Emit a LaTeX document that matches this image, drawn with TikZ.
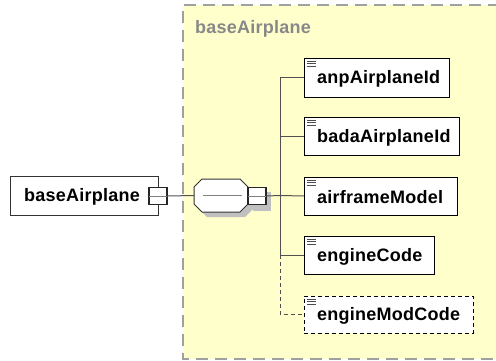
\documentclass[tikz,border=0pt]{standalone}
\usepackage{fontspec}
\setmainfont{Liberation Sans}
\definecolor{groupfill}{HTML}{FFFFCC}
\definecolor{groupline}{HTML}{A0A0A0}
\definecolor{titlegray}{HTML}{888888}
\definecolor{shadowgray}{HTML}{C0C0C0}
\definecolor{wiregray}{HTML}{505050}
\newcommand{\elemfont}{\bfseries\fontsize{18}{20}\selectfont\addfontfeature{LetterSpace=1.5}}
\begin{document}
\begin{tikzpicture}[x=1pt,y=-1pt,
  every node/.style={inner sep=0pt, outer sep=0pt},
  elembox/.style={draw=black, line width=1pt, fill=white, anchor=north west},
  optbox/.style={elembox, dashed, dash pattern=on 4pt off 3pt},
  elemtext/.style={font=\elemfont, anchor=west},
  wire/.style={draw=wiregray, line width=1pt},
  toggle/.style={draw=black!85, line width=1.6pt, fill=white, minimum width=18pt, minimum height=17pt},
  docicon/.style={draw=black!70, line width=0.8pt}
]
\useasboundingbox (0,0) rectangle (496,360);

% dashed group of the complex type
\path[fill=groupfill] (183,5) rectangle (500,359);
\draw[groupline, line width=1.5pt, dash pattern=on 12pt off 7pt] (500,5) -- (183,5) -- (183,359) -- (500,359);
\node[font=\elemfont, text=titlegray, anchor=west] (title) at (195,29) {baseAirplane};

% root element
\node[draw=black!80, line width=1pt, fill=white, anchor=north west, minimum width=148pt, minimum height=39pt] (root) at (10,176) {};
\node[elemtext] (roottext) at (24,196.5) {baseAirplane};
\node[toggle] (rootsq) at (158,196) {};
\draw[gray, line width=1pt] (rootsq.west) -- (rootsq.east);

% sequence compositor with its shadow
\path[fill=shadowgray] (207,184) -- (245,184) -- (253,192) -- (253,209) -- (245,217) -- (207,217) -- (199,209) -- (199,192) -- cycle;
\path[draw=black!80, line width=1pt, fill=white] (202,179) -- (240,179) -- (248,187) -- (248,204) -- (240,212) -- (202,212) -- (194,204) -- (194,187) -- cycle;
\node[minimum width=54pt, minimum height=33pt] (seq) at (221,195.5) {};
\draw[gray, line width=1pt] (203,195.5) -- (242,195.5);
\fill[shadowgray] (253,192) rectangle (271,211);
\node[toggle] (seqsq) at (257,196) {};
\draw[gray, line width=1pt] (seqsq.west) -- (seqsq.east);

% child elements
\node[elembox, minimum width=145pt, minimum height=39pt] (anp) at (304,58) {};
\node[elemtext] (anptext) at (317,79) {anpAirplaneId};
\node[elembox, minimum width=155pt, minimum height=38pt] (bada) at (304,117) {};
\node[elemtext] (badatext) at (317,138) {badaAirplaneId};
\node[elembox, minimum width=153pt, minimum height=38pt] (frame) at (304,177) {};
\node[elemtext] (frametext) at (317,197) {airframeModel};
\node[elembox, minimum width=130pt, minimum height=38pt] (eng) at (304,236) {};
\node[elemtext] (engtext) at (317,257) {engineCode};
\node[optbox, minimum width=169pt, minimum height=37pt] (mod) at (304,296) {};
\node[elemtext] (modtext) at (317,316) {engineModCode};

% documentation marks in the child boxes
\foreach \b in {anp,bada,frame,eng,mod}{
  \foreach \d in {3,5.5,8}{
    \draw[docicon] ([xshift=3pt,yshift=-\d pt]\b.north west) -- ++(9,0);
  }
}

% connectors
\coordinate (trunk) at (280,195.5);
\draw[wire] (rootsq.east) -- (seq.west);
\draw[wire] (seqsq.east) -- (trunk);
\draw[wire] (trunk) |- (anp.west);
\draw[wire] (trunk) |- (bada.west);
\draw[wire] (trunk) -- (frame.west);
\draw[wire] (trunk) |- (eng.west);
\draw[wire, dash pattern=on 4pt off 3pt] (trunk |- eng.west) |- (mod.west);
\end{tikzpicture}
\end{document}
